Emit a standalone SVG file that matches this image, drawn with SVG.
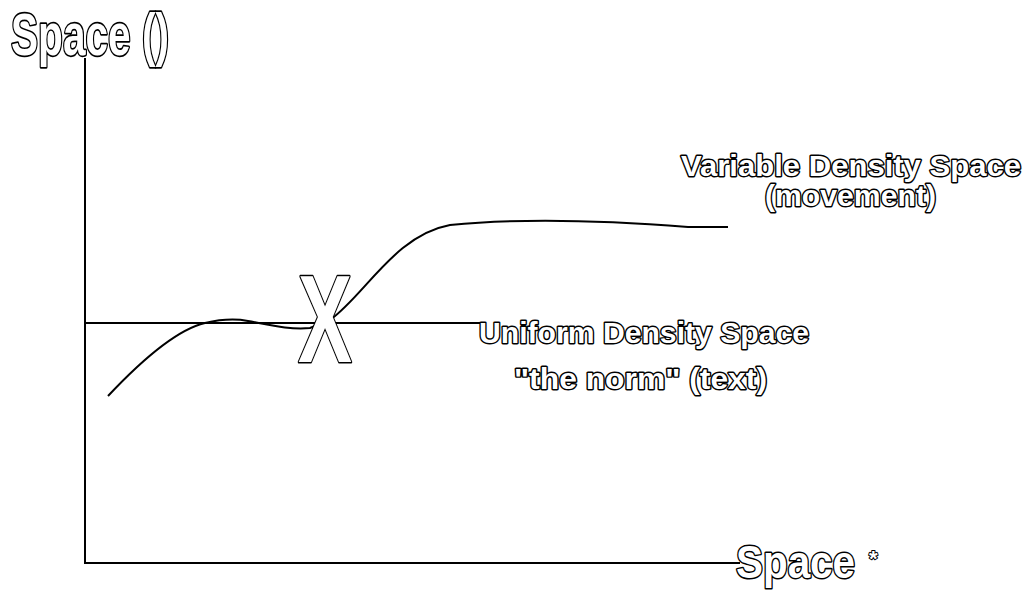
<svg xmlns="http://www.w3.org/2000/svg" width="1030" height="590" viewBox="0 0 1030 590">
  <style>
    .line { fill: none; stroke: #000; stroke-width: 2; }
    .outline { font-family: "Liberation Sans", Arial, sans-serif; font-weight: bold; fill: #fff; stroke: #000; stroke-linejoin: round; paint-order: stroke; }
  </style>
  <rect x="0" y="0" width="1030" height="590" fill="#fff"/>

  <!-- axes and curves -->
  <g id="connectors">
    <path class="line" d="M85,58 L85,563 L740,563"/>
    <path class="line" d="M85,323 L480,323"/>
    <path class="line" d="M108,396 C140,362 175,330 205,323 C218,320 232,318 248,321 C270,325 290,330 310,328 L330,320"/>
    <path class="line" d="M330,320 C365,295 395,235 450,225 C520,218 600,220 688,227 L728,227"/>
  </g>

  <!-- axis labels -->
  <g id="y-axis-label">
    <text class="outline" x="11" y="55" font-size="60" stroke-width="3.4" textLength="158" lengthAdjust="spacingAndGlyphs">Space ()</text>
  </g>
  <g id="x-axis-label">
    <!-- condensed horizontally to narrow the glyphs -->
    <text class="outline" transform="translate(736,578) scale(0.86,1)" x="0" y="0" font-size="47" stroke-width="3">Space</text>
    <text class="outline" x="869" y="566" font-size="22" stroke-width="2">*</text>
  </g>

  <!-- crossing point -->
  <g id="crossing">
    <text class="outline" x="298" y="362" font-size="124" stroke-width="3" textLength="54" lengthAdjust="spacingAndGlyphs">X</text>
  </g>

  <!-- curve labels -->
  <g id="variable-density">
    <text class="outline" x="681" y="176" font-size="30" stroke-width="2.8" textLength="340" lengthAdjust="spacingAndGlyphs">Variable Density Space</text>
    <text class="outline" x="765" y="206" font-size="30" stroke-width="2.8" textLength="171" lengthAdjust="spacingAndGlyphs">(movement)</text>
  </g>
  <g id="uniform-density">
    <text class="outline" x="479" y="343" font-size="30" stroke-width="2.8" textLength="330" lengthAdjust="spacingAndGlyphs">Uniform Density Space</text>
    <text class="outline" x="514" y="389" font-size="30" stroke-width="2.8" textLength="253" lengthAdjust="spacingAndGlyphs">"the norm" (text)</text>
  </g>
</svg>
